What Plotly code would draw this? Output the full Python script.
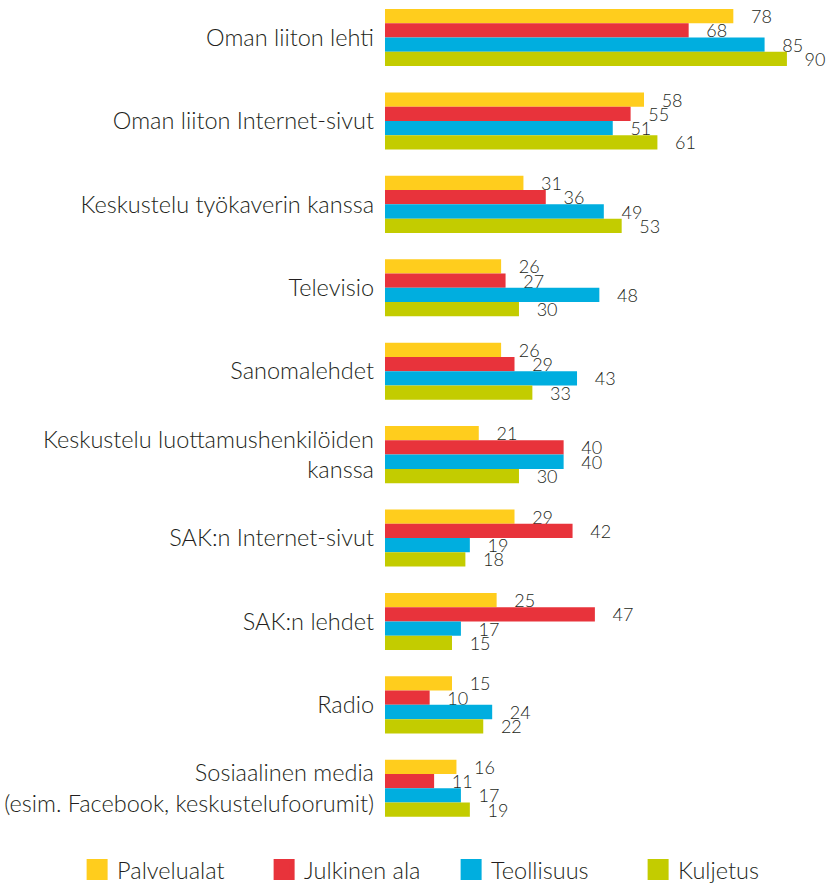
import plotly.graph_objects as go

categories = [
    "Oman liiton lehti",
    "Oman liiton Internet-sivut",
    "Keskustelu työkaverin kanssa",
    "Televisio",
    "Sanomalehdet",
    "Keskustelu luottamushenkilöiden<br>kanssa",
    "SAK:n Internet-sivut",
    "SAK:n lehdet",
    "Radio",
    "Sosiaalinen media<br>(esim. Facebook, keskustelufoorumit)",
]
series_names = ["Palvelualat", "Julkinen ala", "Teollisuus", "Kuljetus"]
palvelualat = [78, 58, 31, 26, 26, 21, 29, 25, 15, 16]
julkinen_ala = [68, 55, 36, 27, 29, 40, 42, 47, 10, 11]
teollisuus = [85, 51, 49, 48, 43, 40, 19, 17, 24, 17]
kuljetus = [90, 61, 53, 30, 33, 30, 18, 15, 22, 19]
series_values = [palvelualat, julkinen_ala, teollisuus, kuljetus]
colors = ["#FFCD1D", "#E8333B", "#00AEDF", "#C3CC00"]

FONT = "Lato"
TXT = "#231F20"
W = 300
FS = 23.5
fig = go.Figure()
for name, vals, col in zip(series_names, series_values, colors):
    fig.add_trace(go.Bar(
        y=categories, x=vals, name=name, orientation="h",
        marker=dict(color=col, line=dict(width=0)),
        text=["\u00a0\u00a0\u00a0" + str(v) for v in vals],
        textposition="outside", constraintext="none", cliponaxis=False,
        textfont=dict(family=FONT, size=18, color=TXT, weight=W),
        hoverinfo="x+name", showlegend=False,
    ))
# legend entries with larger square swatches
for name, col in zip(series_names, colors):
    fig.add_trace(go.Scatter(
        x=[None], y=[None], mode="markers", name=name,
        marker=dict(symbol="square", size=16, color=col, line=dict(color=col, width=5)),
        showlegend=True,
    ))

fig.update_layout(
    width=828, height=887,
    margin=dict(l=385, r=0, t=0, b=57, autoexpand=False),
    barmode="group", bargap=0.316, bargroupgap=0,
    plot_bgcolor="white", paper_bgcolor="white",
    font=dict(family=FONT, size=FS, color=TXT, weight=W),
    showlegend=True,
    legend=dict(orientation="h", x=-0.695, xanchor="left", y=-0.048, yanchor="middle",
                font=dict(family=FONT, size=FS, color=TXT, weight=W),
                entrywidth=142, entrywidthmode="pixels", itemsizing="trace"),
    xaxis=dict(range=[0, 99.2], visible=False, showgrid=False, zeroline=False),
    yaxis=dict(type="category", range=[9.5, -0.45], showgrid=False, zeroline=False,
               showline=False, ticks="", ticklabelstandoff=10, automargin=False,
               tickfont=dict(family=FONT, size=FS, color=TXT, weight=W)),
)
fig.write_html("out.html", config={"displayModeBar": False},
               post_script="document.body.style.margin='0';")
